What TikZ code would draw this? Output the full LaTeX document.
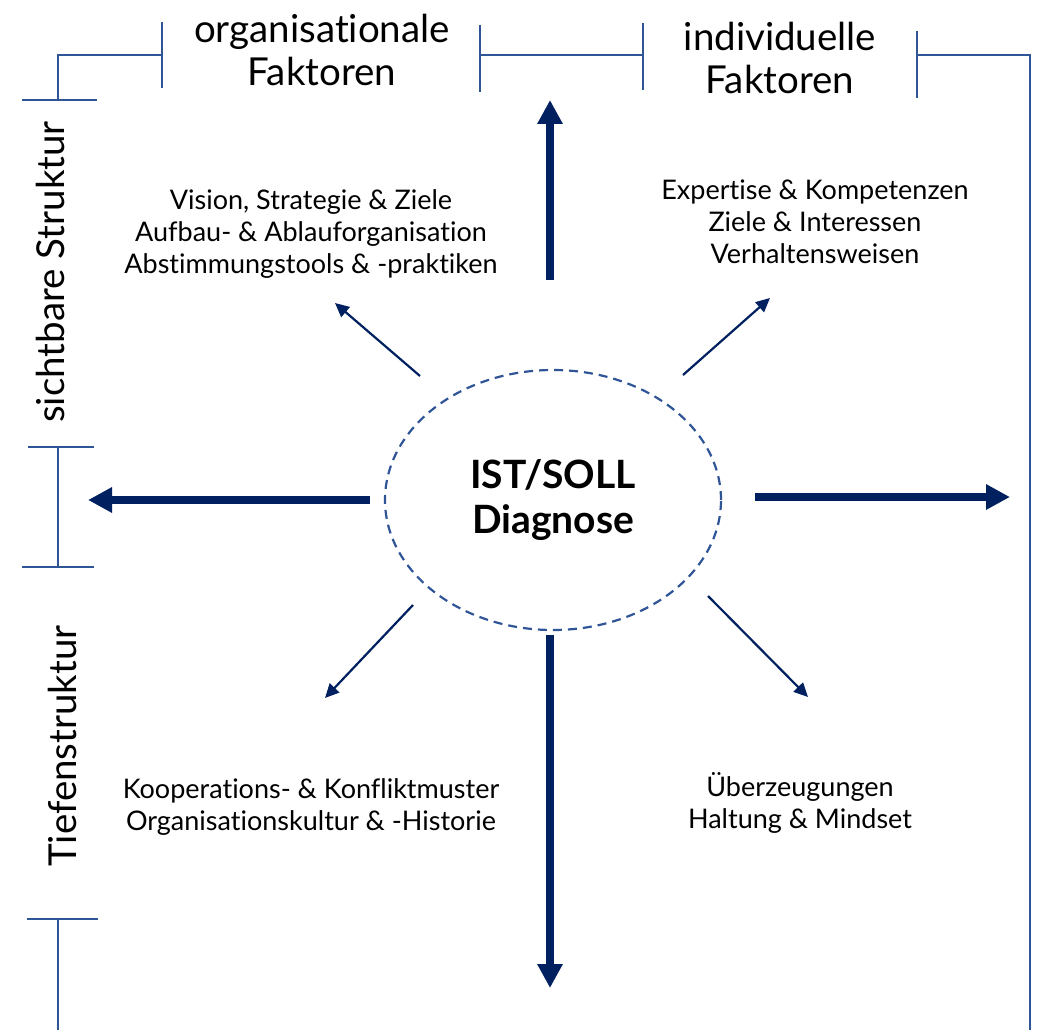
\documentclass[tikz,border=0pt]{standalone}
\usepackage{fontspec}
\setmainfont{Lato}[Ligatures=NoCommon]
\usetikzlibrary{arrows.meta,shapes.geometric}
\definecolor{navy}{RGB}{0,32,96}
\definecolor{frameblue}{RGB}{47,85,151}

\begin{document}
\begin{tikzpicture}[x=1pt, y=-1pt,
		frame/.style={frameblue, line width=2pt},
		bigarrow/.style={navy, line width=7.5pt, -{Triangle[length=24pt,width=24pt]}},
		smallarrow/.style={navy, line width=2.2pt, -{Triangle[length=14pt,width=13pt]}},
		factor/.style={align=center, font=\fontsize{38.5}{43}\selectfont},
		item/.style={align=center, font=\fontsize{27}{32}\selectfont}]
		\useasboundingbox (0,0) rectangle (1038,1030);
		
		% Frame with brackets
		\draw[frame] (22,100) -- (97,100);
		\draw[frame] (58,100) -- (58,55) -- (162,55);
		\draw[frame] (162,22) -- (162,88);
		\draw[frame] (480,25) -- (480,92);
		\draw[frame] (480,55) -- (643,55);
		\draw[frame] (643,23) -- (643,90);
		\draw[frame] (917,31) -- (917,98);
		\draw[frame] (917,55) -- (1030,55) -- (1030,1030);
		\draw[frame] (28,447) -- (94,447);
		\draw[frame] (58,447) -- (58,567);
		\draw[frame] (22,567) -- (94,567);
		\draw[frame] (27,919) -- (98,919);
		\draw[frame] (58,919) -- (58,1030);
		
		% Headings
		\node[factor] (orgfak) at (322,50) {organisationale\\Faktoren};
		\node[factor] (indfak) at (780,58) {individuelle\\Faktoren};
		\node[factor, rotate=90] (sichtbar) at (50,272) {sichtbare Struktur};
		\node[factor, rotate=90] (tiefe) at (62,746) {Tiefenstruktur};
		
		% Diagnosis in the middle
		\node[ellipse, draw=frameblue, line width=2.2pt, dash pattern=on 9pt off 6pt,
		minimum width=336pt, minimum height=260pt, inner sep=0pt, align=center,
		font=\fontsize{39}{45}\selectfont\bfseries] (diag) at (553,500) {IST/SOLL\\Diagnose};
		
		% Factors
		\node[item] (orgsicht) at (311,234) {Vision, Strategie \& Ziele\\Aufbau- \& Ablauforganisation\\Abstimmungstools \& -praktiken};
		\node[item] (indsicht) at (815,222) {Expertise \& Kompetenzen\\Ziele \& Interessen\\Verhaltensweisen};
		\node[item] (orgtief) at (311,807) {Kooperations- \& Konfliktmuster\\Organisationskultur \& -Historie};
		\node[item] (indtief) at (800,803) {Überzeugungen\\Haltung \& Mindset};
		
		% Arrow ends
		\coordinate (upS) at (550,280);   \coordinate (upE) at (550,100);
		\coordinate (leftS) at (370,500); \coordinate (leftE) at (88,500);
		\coordinate (rightS) at (755,497);\coordinate (rightE) at (1010,497);
		\coordinate (downS) at (550,635); \coordinate (downE) at (550,988);
		\coordinate (ulS) at (420,376);   \coordinate (ulE) at (335,303);
		\coordinate (urS) at (683,375);   \coordinate (urE) at (770,298);
		\coordinate (llS) at (413,605);   \coordinate (llE) at (325,698);
		\coordinate (lrS) at (708,596);   \coordinate (lrE) at (808,697);
		
		% Thick arrows
		\foreach \d in {up,left,right,down} {
				\draw[bigarrow] (\d S) -- (\d E);
			}
		% Thin arrows
		\foreach \d in {ul,ur,ll,lr} {
				\draw[smallarrow] (\d S) -- (\d E);
			}
		
	\end{tikzpicture}
\end{document}
